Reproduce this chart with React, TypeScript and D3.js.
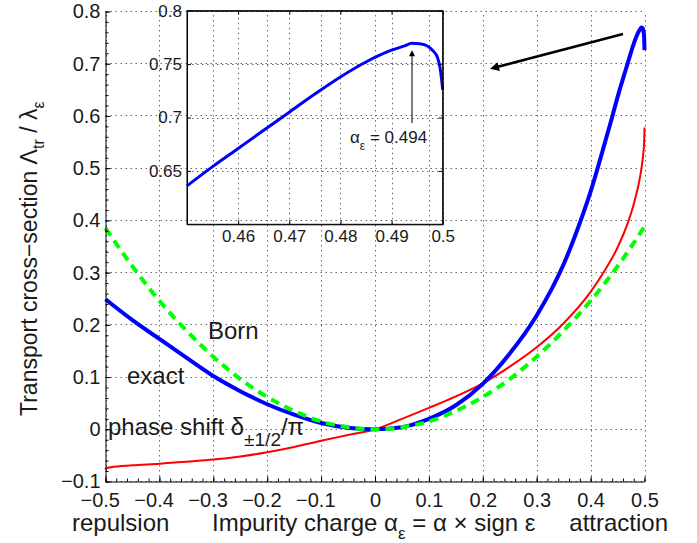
import React, { useRef, useEffect } from 'react';
import * as d3 from 'd3';

// exact transport cross-section (blue)
const exactAlpha = [
  -0.5, -0.45, -0.4, -0.35, -0.3, -0.25, -0.2, -0.15, -0.1, -0.05, 0,
  0.05, 0.1, 0.15, 0.2, 0.25, 0.3, 0.35, 0.38, 0.4, 0.42, 0.44, 0.45,
  0.455, 0.46, 0.465, 0.47, 0.475, 0.48, 0.485, 0.49, 0.4925, 0.494,
  0.4955, 0.497, 0.498, 0.499, 0.4995, 0.5,
];
const exactValues = [
  0.249, 0.209, 0.173, 0.137, 0.102, 0.073, 0.048, 0.028, 0.012, 0.003, 0,
  0.004, 0.02, 0.046, 0.087, 0.145, 0.218, 0.316, 0.395, 0.455, 0.525, 0.598, 0.636,
  0.654, 0.671, 0.688, 0.705, 0.722, 0.738, 0.752, 0.763, 0.767, 0.7695,
  0.769, 0.767, 0.763, 0.756, 0.746, 0.726,
];

// Born approximation (green dashed)
const bornAlpha = [
  -0.5, -0.45, -0.4, -0.35, -0.3, -0.25, -0.2, -0.15, -0.1, -0.05, 0,
  0.05, 0.1, 0.15, 0.2, 0.25, 0.3, 0.35, 0.4, 0.45, 0.5,
];
const bornValues = [
  0.385, 0.312, 0.246, 0.189, 0.139, 0.096, 0.062, 0.035, 0.015, 0.004, 0,
  0.004, 0.015, 0.035, 0.062, 0.096, 0.139, 0.189, 0.246, 0.312, 0.388,
];

// phase shift delta_{+-1/2}/pi (red)
const phaseAlpha = [
  -0.5, -0.4995, -0.498, -0.495, -0.49, -0.45, -0.4, -0.35, -0.3, -0.25, -0.2,
  -0.15, -0.1, -0.05, 0, 0.05, 0.1, 0.15, 0.2, 0.25, 0.3, 0.35, 0.4, 0.425,
  0.45, 0.47, 0.48, 0.49, 0.495, 0.498, 0.4995, 0.5,
];
const phaseValues = [
  -0.077, -0.0755, -0.0745, -0.0735, -0.0725, -0.069, -0.066, -0.062, -0.058, -0.052, -0.044,
  -0.034, -0.022, -0.011, 0, 0.02, 0.041, 0.063, 0.088, 0.12, 0.157, 0.203, 0.263, 0.302,
  0.348, 0.398, 0.431, 0.474, 0.504, 0.531, 0.555, 0.578,
];

const xTicks = [-0.5, -0.4, -0.3, -0.2, -0.1, 0, 0.1, 0.2, 0.3, 0.4, 0.5];
const yTicks = [-0.1, 0, 0.1, 0.2, 0.3, 0.4, 0.5, 0.6, 0.7, 0.8];
const insetXTicks = [0.46, 0.47, 0.48, 0.49, 0.5];
const insetYTicks = [0.65, 0.7, 0.75, 0.8];
const peakAlpha = 0.494;

const FONT = '"Liberation Sans", Arial, Helvetica, sans-serif';
const TXT = '#1a1a1a';

export default function App() {
  const svgRef = useRef<SVGSVGElement>(null);

  useEffect(() => {
    const svg = d3.select(svgRef.current);
    svg.selectAll('*').remove();

    const x = d3.scaleLinear().domain([-0.5, 0.5]).range([105.5, 644.5]);
    const y = d3.scaleLinear().domain([-0.1, 0.8]).range([481.5, 11.5]);

    const fmt = (d: number) => (d === 0 ? '0' : d3.format('.1f')(d));

    // main grid (dotted)
    const grid = svg.append('g');
    grid.selectAll('line.v').data(xTicks).join('line').attr('class', 'v')
      .attr('x1', d => Math.round(x(d)) + 0.5).attr('x2', d => Math.round(x(d)) + 0.5)
      .attr('y1', y(-0.1)).attr('y2', y(0.8));
    grid.selectAll('line.h').data(yTicks).join('line').attr('class', 'h')
      .attr('x1', x(-0.5)).attr('x2', x(0.5))
      .attr('y1', d => Math.round(y(d) - 0.5) + 0.5).attr('y2', d => Math.round(y(d) - 0.5) + 0.5);
    grid.selectAll('line')
      .attr('stroke', '#6a6a6a').attr('stroke-width', 1).attr('stroke-dasharray', '1.5,3.5');

    // curves
    const mainLine = d3.line<[number, number]>()
      .x(d => x(d[0])).y(d => y(d[1]))
      .curve(d3.curveMonotoneX);

    svg.append('path')
      .attr('d', mainLine(d3.zip(phaseAlpha, phaseValues) as [number, number][]))
      .attr('fill', 'none').attr('stroke', '#ff0000').attr('stroke-width', 2);
    svg.append('path')
      .attr('d', mainLine(d3.zip(exactAlpha, exactValues) as [number, number][]))
      .attr('fill', 'none').attr('stroke', '#0000ff').attr('stroke-width', 4);
    svg.append('path')
      .attr('d', mainLine(d3.zip(bornAlpha, bornValues) as [number, number][]))
      .attr('fill', 'none').attr('stroke', '#00ff00').attr('stroke-width', 4)
      .attr('stroke-dasharray', '9,6');

    // axes
    const gx = svg.append('g').attr('transform', `translate(0,${y(-0.1)})`)
      .call(d3.axisBottom(x).tickValues(xTicks).tickSize(-5).tickSizeOuter(0)
        .tickPadding(11).tickFormat(d => fmt(+d)));
    gx.append('g')
      .call(d3.axisBottom(x).ticks(50).tickSize(-3).tickSizeOuter(0).tickFormat(() => ''))
      .select('.domain').remove();
    const gy = svg.append('g').attr('transform', `translate(${x(-0.5)},0)`)
      .call(d3.axisLeft(y).tickValues(yTicks).tickSize(-5).tickSizeOuter(0)
        .tickPadding(5).tickFormat(d => fmt(+d)));
    gy.append('g')
      .call(d3.axisLeft(y).ticks(45).tickSize(-3).tickSizeOuter(0).tickFormat(() => ''))
      .select('.domain').remove();

    [gx, gy].forEach(g => {
      g.attr('font-size', 20).attr('font-family', FONT);
      g.selectAll('.domain').attr('stroke', '#000');
      g.selectAll('.tick line').attr('stroke', '#000');
      g.selectAll('text').attr('fill', TXT);
    });
    gx.selectAll<SVGTextElement, number>('.tick text').attr('x', d => (d < 0 ? -5.8 : 0));

    // axis labels
    svg.append('text').attr('x', 72).attr('y', 531)
      .attr('font-size', 24).attr('font-family', FONT).attr('fill', TXT).text('repulsion');
    svg.append('text').attr('x', 668).attr('y', 531).attr('text-anchor', 'end')
      .attr('font-size', 24).attr('font-family', FONT).attr('fill', TXT).text('attraction');

    const xl = svg.append('text').attr('x', 212).attr('y', 531)
      .attr('font-size', 24).attr('font-family', FONT).attr('fill', TXT);
    xl.append('tspan').text('Impurity charge α');
    xl.append('tspan').attr('dy', 8).attr('font-size', 17).text('ε');
    xl.append('tspan').attr('dy', -8).text(' = α × sign ε');

    const yl = svg.append('text')
      .attr('transform', 'translate(37,416) rotate(-90)')
      .attr('font-size', 23).attr('font-family', FONT).attr('fill', TXT);
    yl.append('tspan').text('Transport cross−section  Λ');
    yl.append('tspan').attr('dy', 7).attr('font-size', 16).text('tr');
    yl.append('tspan').attr('dy', -7).text(' / λ');
    yl.append('tspan').attr('dy', 7).attr('font-size', 16).text('ε');

    // curve labels
    const lbl = (tx: number, ty: number, s: string) =>
      svg.append('text').attr('x', tx).attr('y', ty)
        .attr('font-size', 24).attr('font-family', FONT).attr('fill', TXT).text(s);
    lbl(208, 339, 'Born');
    lbl(127, 384, 'exact');
    const ph = svg.append('text').attr('x', 108).attr('y', 435)
      .attr('font-size', 24).attr('font-family', FONT).attr('fill', TXT);
    ph.append('tspan').text('phase shift δ');
    ph.append('tspan').attr('dy', 11).attr('font-size', 19).text('±1/2');
    ph.append('tspan').attr('dy', -11).text('/π');

    // pointer arrow towards the inset
    const defs = svg.append('defs');
    defs.append('marker').attr('id', 'head').attr('viewBox', '0 0 10 10')
      .attr('refX', 2).attr('refY', 5).attr('markerWidth', 15).attr('markerHeight', 9)
      .attr('markerUnits', 'userSpaceOnUse').attr('orient', 'auto')
      .append('path').attr('d', 'M0,0 L10,5 L0,10 z').attr('fill', '#000');
    defs.append('marker').attr('id', 'head2').attr('viewBox', '0 0 10 10')
      .attr('refX', 2).attr('refY', 5).attr('markerWidth', 8).attr('markerHeight', 6)
      .attr('markerUnits', 'userSpaceOnUse').attr('orient', 'auto')
      .append('path').attr('d', 'M0,0 L10,5 L0,10 z').attr('fill', '#000');

    svg.append('line').attr('x1', 623).attr('y1', 34).attr('x2', 497).attr('y2', 67)
      .attr('stroke', '#000').attr('stroke-width', 2.5).attr('marker-end', 'url(#head)');

    // inset
    const ix = d3.scaleLinear().domain([0.45, 0.5]).range([187, 442.7]);
    const iy = d3.scaleLinear().domain([0.6, 0.8]).range([224.3, 10.7]);
    const inset = svg.append('g');
    inset.selectAll('line.v').data(insetXTicks).join('line').attr('class', 'v')
      .attr('x1', d => Math.round(ix(d)) + 0.5).attr('x2', d => Math.round(ix(d)) + 0.5)
      .attr('y1', iy(0.6)).attr('y2', iy(0.8));
    inset.selectAll('line.h').data(insetYTicks).join('line').attr('class', 'h')
      .attr('x1', ix(0.45)).attr('x2', ix(0.5))
      .attr('y1', d => Math.round(iy(d)) + 0.5).attr('y2', d => Math.round(iy(d)) + 0.5);
    inset.selectAll('line')
      .attr('stroke', '#6a6a6a').attr('stroke-width', 1).attr('stroke-dasharray', '1.5,3.5');

    const insetLine = d3.line<[number, number]>()
      .x(d => ix(d[0])).y(d => iy(d[1]))
      .curve(d3.curveMonotoneX);
    const insetData = (d3.zip(exactAlpha, exactValues) as [number, number][])
      .filter(d => d[0] >= 0.45);
    inset.append('path').attr('d', insetLine(insetData))
      .attr('fill', 'none').attr('stroke', '#0000ff').attr('stroke-width', 3);

    inset.append('rect').attr('x', ix(0.45)).attr('y', iy(0.8))
      .attr('width', ix(0.5) - ix(0.45)).attr('height', iy(0.6) - iy(0.8))
      .attr('fill', 'none').attr('stroke', '#000').attr('stroke-width', 1);

    const igx = inset.append('g').attr('transform', `translate(0,${iy(0.6)})`)
      .call(d3.axisBottom(ix).tickValues(insetXTicks).tickSize(-4).tickSizeOuter(0)
        .tickPadding(6).tickFormat(d => String(+d)));
    const igy = inset.append('g').attr('transform', `translate(${ix(0.45)},0)`)
      .call(d3.axisLeft(iy).tickValues(insetYTicks).tickSize(-4).tickSizeOuter(0)
        .tickPadding(5).tickFormat(d => String(+d)));
    const igt = inset.append('g').attr('transform', `translate(0,${iy(0.8)})`)
      .call(d3.axisTop(ix).tickValues(insetXTicks).tickSize(-4).tickSizeOuter(0).tickFormat(() => ''));
    const igr = inset.append('g').attr('transform', `translate(${ix(0.5)},0)`)
      .call(d3.axisRight(iy).tickValues(insetYTicks).tickSize(-4).tickSizeOuter(0).tickFormat(() => ''));
    [igx, igy, igt, igr].forEach(g => {
      g.attr('font-size', 17).attr('font-family', FONT);
      g.selectAll('.domain').attr('stroke', '#000');
      g.selectAll('.tick line').attr('stroke', '#000');
      g.selectAll('text').attr('fill', TXT);
    });

    // peak annotation
    inset.append('line').attr('x1', ix(peakAlpha)).attr('x2', ix(peakAlpha))
      .attr('y1', 123).attr('y2', 55)
      .attr('stroke', '#000').attr('stroke-width', 1).attr('marker-end', 'url(#head2)');
    const pk = inset.append('text').attr('x', 350).attr('y', 143)
      .attr('font-size', 17).attr('font-family', FONT).attr('fill', TXT);
    pk.append('tspan').text('α');
    pk.append('tspan').attr('dy', 7).attr('font-size', 12).text('ε');
    pk.append('tspan').attr('dy', -7).text(' = ' + peakAlpha);
  }, []);

  return (
    <svg
      ref={svgRef}
      xmlns="http://www.w3.org/2000/svg"
      width="697"
      height="543"
      viewBox="0 0 697 543"
      style={{ position: 'absolute', left: 0, top: 0, background: '#fff' }}
    />
  );
}
